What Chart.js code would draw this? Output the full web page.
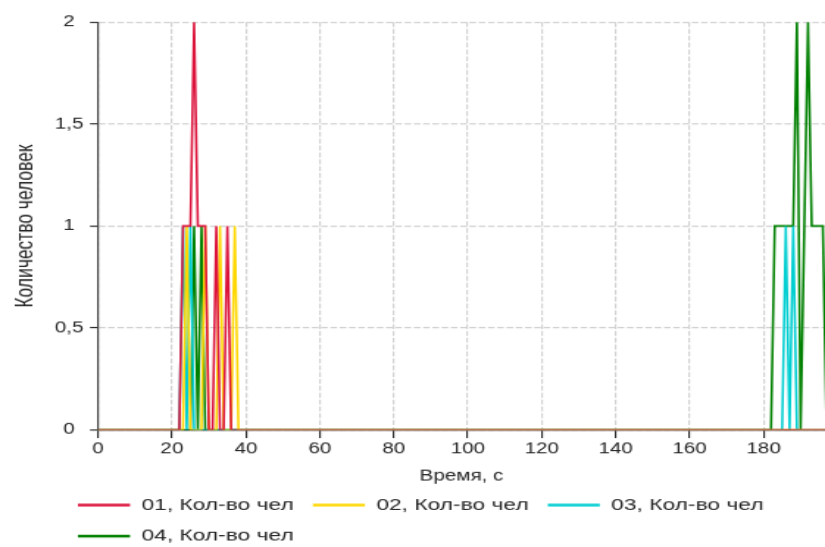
<!DOCTYPE html>
<html>
<head>
<meta charset="utf-8">
<script src="https://cdn.jsdelivr.net/npm/chart.js@4"></script>
<style>
  html, body { margin: 0; padding: 0; background: #fff; overflow: hidden; }
</style>
</head>
<body>
<!-- The drawing surface is rendered at a narrower size and shown wider. -->
<canvas id="c" width="561" height="502" style="display:block;width:825px;height:547px"></canvas>
<script>
// Breakpoints of each series (time in seconds, number of people).
// Segments between breakpoints are straight lines.
const t01 = [0, 22, 23, 25, 26, 27, 29, 30, 31, 32, 33, 34, 35, 36, 200];
const v01 = [0, 0, 1, 1, 2, 1, 1, 0, 0, 1, 0, 0, 1, 0, 0];

const t02 = [0, 23, 24, 25, 28, 29, 30, 32, 33, 34, 36, 37, 38, 200];
const v02 = [0, 0, 1, 0, 0, 1, 0, 0, 1, 0, 0, 1, 0, 0];

const t03 = [0, 22, 23, 24, 25, 26, 185, 186, 187, 188, 189, 200];
const v03 = [0, 0, 1, 0, 1, 0, 0, 1, 0, 1, 0, 0];

const t04 = [0, 25, 26, 27, 28, 29, 182, 183, 188, 189, 190, 191, 192, 193, 196, 197, 200];
const v04 = [0, 0, 1, 0, 1, 0, 0, 1, 1, 2, 0, 1, 2, 1, 1, 0, 0];

const seriesNames = ['01, Кол-во чел', '02, Кол-во чел', '03, Кол-во чел', '04, Кол-во чел'];
const seriesColors = ['#DC143C', '#FFD700', '#00CED1', '#008000'];

const xTitle = 'Время, с';
const yTitle = 'Количество человек';

const toPoints = (ts, vs) => ts.map((t, i) => ({ x: t, y: vs[i] }));
const seriesData = [toPoints(t01, v01), toPoints(t02, v02), toPoints(t03, v03), toPoints(t04, v04)];

const FAMILY = '"Liberation Sans", Arial, sans-serif';
const tickFont = { family: FAMILY, size: 14 };
const xTitleFont = { family: FAMILY, size: 14 };
const yTitleFont = { family: FAMILY, size: 16 };
const legendFont = { family: FAMILY, size: 15.5 };
const TEXT = '#222';

// Places the legend block so its rows start under the left part of the plot.
const legendPlacer = {
  id: 'legendPlacer',
  afterLayout(chart) {
    const lg = chart.legend;
    if (!lg) return;
    const pad = lg.options.labels.padding;
    const dx = 53 - (lg.left + pad);
    const dy = -2.6;
    lg.left += dx; lg.right += dx;
    lg.top += dy; lg.bottom += dy;
  }
};

const gridStyle = {
  color: '#d2d2d2',
  lineWidth: 1.2,
  tickColor: '#222',
  tickWidth: 1.1
};

new Chart(document.getElementById('c'), {
  type: 'line',
  data: {
    datasets: seriesData.map((d, i) => ({
      label: seriesNames[i],
      data: d,
      borderColor: seriesColors[i],
      backgroundColor: seriesColors[i],
      borderWidth: 1.6,
      pointRadius: 0,
      tension: 0,
      fill: false
    }))
  },
  options: {
    responsive: false,
    animation: false,
    devicePixelRatio: 1,
    layout: { padding: { top: 20.2, right: 0, bottom: 0, left: 0 } },
    plugins: {
      tooltip: { enabled: false },
      legend: {
        position: 'bottom',
        align: 'start',
        maxHeight: 56.7,
        labels: {
          font: legendFont,
          color: TEXT,
          padding: 13,
          usePointStyle: true,
          pointStyle: 'line',
          pointStyleWidth: 35.4,
          generateLabels(chart) {
            return Chart.defaults.plugins.legend.labels.generateLabels(chart)
              .map(l => Object.assign(l, { lineWidth: 2.6 }));
          }
        }
      }
    },
    scales: {
      x: {
        type: 'linear',
        min: 0,
        max: 196.6,
        ticks: {
          stepSize: 20,
          includeBounds: false,
          font: tickFont,
          color: TEXT,
          padding: 1.7
        },
        grid: Object.assign({ tickLength: 7.3 }, gridStyle),
        border: { color: '#111', width: 1.3, dash: [4.5, 1.8] },
        title: { display: true, text: xTitle, font: xTitleFont, color: TEXT, padding: { top: 2, bottom: 0 } },
        afterFit(scale) { scale.height = 50.7; }
      },
      y: {
        min: 0,
        max: 2,
        ticks: {
          stepSize: 0.5,
          font: tickFont,
          color: TEXT,
          padding: 4.5,
          crossAlign: 'center',
          callback: v => String(v).replace('.', ',')
        },
        grid: Object.assign({ tickLength: 5.4 }, gridStyle),
        border: { color: '#444', width: 1.2, dash: [4.5, 1.8] },
        title: { display: true, text: yTitle, font: yTitleFont, color: TEXT, padding: { top: 8, bottom: 2 } },
        afterFit(scale) { scale.width = 66.6; }
      }
    }
  },
  plugins: [legendPlacer]
});
</script>
</body>
</html>
